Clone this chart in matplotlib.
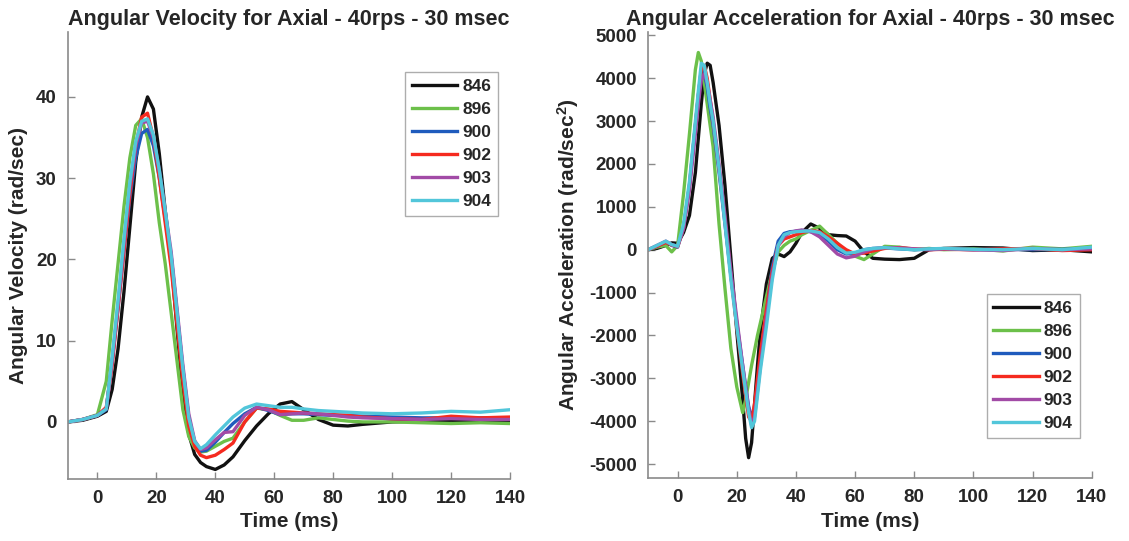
import matplotlib
matplotlib.use('Agg')
import matplotlib.pyplot as plt

plt.rcParams['font.family'] = ['Liberation Sans', 'DejaVu Sans']
plt.rcParams['font.weight'] = 'bold'
plt.rcParams['axes.unicode_minus'] = False
plt.rcParams['mathtext.fontset'] = 'custom'
plt.rcParams['mathtext.bf'] = 'Liberation Sans:bold'
plt.rcParams['mathtext.rm'] = 'Liberation Sans:bold'
plt.rcParams['mathtext.default'] = 'bf'

# specimens
labels = ['846', '896', '900', '902', '903', '904']
colors = ['#111111', '#6cc04a', '#1f5bbd', '#f52a1f', '#a24ba6', '#52c6da']

# ---- angular velocity (rad/sec) ----
t_vel = [-10, -5, 0, 3, 5, 7, 9, 11, 13, 15, 17, 19, 21, 23, 25, 27, 29, 31, 33, 35,
         37, 40, 43, 46, 50, 54, 58, 62, 66, 70, 75, 80, 85, 90, 100, 110, 120, 130, 140]
vel_846 = [0, 0.2, 0.7, 1.3, 4, 9, 16, 24, 32, 37.5, 40, 38.5, 33, 26, 20, 11.5, 3.5, -1.5, -4, -5.0,
           -5.5, -5.85, -5.3, -4.3, -2.3, -0.5, 1.0, 2.2, 2.5, 1.5, 0.3, -0.4, -0.5, -0.3, 0, 0.1, 0.2, 0.1, 0]
vel_896 = [0, 0.3, 0.9, 5, 12.5, 19.5, 26.5, 32.5, 36.5, 37.3, 35, 30.5, 24.5, 19.5, 13.5, 7.5, 1.5, -1.8, -3.2, -3.7,
           -3.6, -3.0, -2.4, -2.0, 0, 1.7, 1.5, 0.8, 0.2, 0.2, 0.5, 0.3, 0.1, 0, 0, -0.1, -0.2, -0.1, -0.2]
vel_900 = [0, 0.3, 0.8, 1.5, 7.5, 14, 21, 27.5, 32.5, 35.5, 36, 34, 30, 25, 20.5, 13.5, 6.5, 0.5, -2.5, -3.6,
           -3.5, -2.5, -1.3, -0.2, 1.0, 1.8, 1.4, 0.9, 1.0, 1.0, 0.9, 0.8, 0.8, 0.7, 0.6, 0.5, 0.5, 0.5, 0.5]
vel_902 = [0, 0.3, 0.8, 1.8, 7, 14, 21, 28, 34, 37.5, 38, 35, 30, 24.5, 19, 12, 5, -0.5, -3, -4.1,
           -4.4, -4.1, -3.4, -2.6, 0, 1.7, 1.6, 1.3, 1.2, 1.1, 1.0, 0.9, 0.8, 0.6, 0.4, 0.3, 0.7, 0.5, 0.6]
vel_903 = [0, 0.3, 0.8, 1.6, 7.5, 14.5, 22, 29, 34, 36.8, 37, 35, 31, 26, 21, 14, 7, 1, -2.3, -3.4,
           -3.2, -2.2, -1.3, -1.2, 0.8, 1.8, 1.5, 0.9, 1.0, 1.1, 1.0, 0.8, 0.6, 0.5, 0.4, 0.3, 0.4, 0.3, 0.3]
vel_904 = [0, 0.3, 0.8, 1.6, 8, 15, 22.5, 29.5, 34.5, 37, 37.3, 35.3, 31, 26, 20.5, 13.5, 6.5, 0.5, -2.4, -3.3,
           -2.8, -1.6, -0.5, 0.6, 1.7, 2.2, 2.0, 1.8, 1.8, 1.6, 1.4, 1.3, 1.2, 1.1, 1.0, 1.1, 1.3, 1.2, 1.5]

# ---- angular acceleration (rad/sec^2) ----
t_acc = [-10, -7, -4, -2, 0, 2, 4, 6, 7, 8, 9, 10, 11, 12, 14, 16, 18, 20, 22, 23, 24, 25, 26, 27, 28,
         30, 32, 34, 36, 38, 40, 42, 45, 48, 51, 54, 57, 60, 63, 66, 70, 75, 80, 85, 90, 100, 110, 120, 130, 140]
acc_846 = [0, 30, 100, 160, 150, 400, 800, 1800, 2600, 3400, 4100, 4350, 4300, 3900, 2900, 1500, -200, -1900, -3500, -4400,
           -4850, -4500, -3600, -2700, -1900, -800, -200, -100, -160, -50, 150, 400, 600, 500, 350, 330, 320, 200, -50, -200,
           -220, -230, -200, 0, 30, 50, 40, -20, 0, -50]
acc_896 = [0, 60, 100, -50, 100, 1300, 2700, 4200, 4600, 4400, 3900, 3400, 2900, 2400, 600, -900, -2300, -3200, -3800, -3500,
           -3100, -2700, -2350, -2000, -1700, -1100, -500, -50, 100, 200, 250, 350, 450, 550, 350, 150, -50, -150, -230, -100,
           80, 60, 0, 30, 0, 20, -30, 60, 20, 80]
acc_900 = [0, 80, 180, 100, 60, 500, 1500, 2900, 3600, 4200, 4100, 3800, 3300, 2900, 1800, 600, -600, -1700, -2700, -3200,
           -3650, -3900, -3700, -3200, -2600, -1500, -400, 200, 380, 420, 430, 450, 420, 350, 200, 0, -100, -80, 0, 30,
           40, 20, 0, 10, 20, 0, 10, 0, 10, 20]
acc_902 = [0, 80, 170, 110, 70, 500, 1500, 2900, 3600, 4200, 4300, 4000, 3500, 3000, 1900, 700, -600, -1800, -2900, -3400,
           -3900, -4000, -3600, -3000, -2400, -1400, -500, 100, 250, 300, 350, 400, 450, 420, 300, 150, 0, -100, -80, -30,
           30, 50, 20, 0, 10, 0, 20, 30, -20, 0]
acc_903 = [0, 100, 200, 120, 80, 500, 1400, 2700, 3400, 3950, 4100, 3900, 3500, 3100, 2000, 800, -500, -1600, -2700, -3200,
           -3700, -4100, -3900, -3300, -2700, -1600, -600, 100, 300, 400, 440, 460, 420, 300, 100, -100, -190, -150, -50, 20,
           50, 40, 20, 0, 20, 0, -20, 30, 0, 20]
acc_904 = [0, 100, 200, 120, 80, 600, 1600, 3000, 3700, 4350, 4300, 3900, 3400, 3000, 1900, 600, -700, -1800, -2800, -3300,
           -3800, -4150, -4000, -3400, -2800, -1800, -700, 100, 350, 400, 420, 430, 440, 400, 250, 50, -80, -60, 0, 30,
           50, 20, 0, 20, 30, 10, 0, 30, 0, 60]

vel_series = [vel_846, vel_896, vel_900, vel_902, vel_903, vel_904]
acc_series = [acc_846, acc_896, acc_900, acc_902, acc_903, acc_904]

text_col = '#262626'
spine_col = '#8a8a8a'

fig = plt.figure(figsize=(11.29, 5.41), dpi=100)
ax1 = fig.add_axes([0.0602, 0.115, 0.3915, 0.826])
ax2 = fig.add_axes([0.574, 0.116, 0.393, 0.825])


def style(ax):
    for s in ['top', 'right']:
        ax.spines[s].set_visible(False)
    for s in ['left', 'bottom']:
        ax.spines[s].set_color(spine_col)
        ax.spines[s].set_linewidth(1.2)
    ax.tick_params(direction='in', length=5, width=1, color=spine_col,
                   labelsize=13.5, labelcolor=text_col, pad=8)
    ax.set_xlim(-10, 140)
    ax.set_xticks(range(0, 141, 20))
    ax.set_xlabel('Time (ms)', fontsize=15, fontweight='bold', color=text_col, labelpad=4)


def add_legend(ax, loc, anchor):
    leg = ax.legend(loc=loc, bbox_to_anchor=anchor, fancybox=False,
                    edgecolor='#999999', fontsize=12.5, handlelength=2.6, handletextpad=0.3,
                    borderpad=0.4, labelspacing=0.45, borderaxespad=0)
    for txt in leg.get_texts():
        txt.set_color(text_col)


for y, lab, col in zip(vel_series, labels, colors):
    ax1.plot(t_vel, y, color=col, lw=2.4, label=lab)
style(ax1)
ax1.set_ylim(-7, 48)
ax1.set_yticks([0, 10, 20, 30, 40])
ax1.set_ylabel('Angular Velocity (rad/sec)', fontsize=15, fontweight='bold', color=text_col, labelpad=6)
ax1.set_title('Angular Velocity for Axial - 40rps - 30 msec', fontsize=15.5, fontweight='bold',
              color=text_col, pad=5)
add_legend(ax1, 'upper right', (0.973, 0.911))

for y, lab, col in zip(acc_series, labels, colors):
    ax2.plot(t_acc, y, color=col, lw=2.4, label=lab)
style(ax2)
ax2.set_ylim(-5330, 5080)
ax2.set_yticks(range(-5000, 5001, 1000))
ax2.set_ylabel(r'Angular Acceleration (rad/sec$^{2}$)', fontsize=15, fontweight='bold',
               color=text_col, labelpad=6)
ax2.set_title('Angular Acceleration for Axial - 40rps - 30 msec', fontsize=15.5, fontweight='bold',
              color=text_col, pad=5)
add_legend(ax2, 'lower right', (0.973, 0.09))

fig.savefig('out.png', dpi=100)
